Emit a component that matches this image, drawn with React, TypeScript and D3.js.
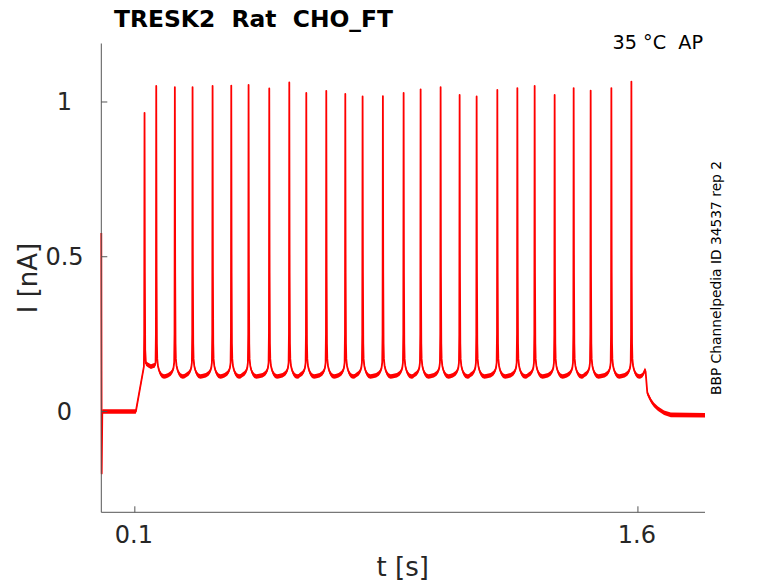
import React from "react";
import * as d3 from "d3";

// ---- Data ----
const TITLE = "TRESK2  Rat  CHO_FT";
const CONDITION = "35 °C  AP";
const SIDE_NOTE = "BBP Channelpedia ID 34537 rep 2";
const X_LABEL = "t [s]";
const Y_LABEL = "I [nA]";

const X_DOMAIN = [0, 1.8];
const Y_DOMAIN = [-0.3257, 1.189];
const X_TICKS = [0.1, 1.6];
const Y_TICKS = [0, 0.5, 1];

// spike peak times (s) and peak currents (nA)
const SPIKE_T = [
  0.1289, 0.1638, 0.2193, 0.2721, 0.3318, 0.3875, 0.4391, 0.5008, 0.5605,
  0.6112, 0.6708, 0.7275, 0.7791, 0.8396, 0.9014, 0.9521, 1.0117, 1.0684,
  1.1191, 1.1808, 1.2405, 1.2921, 1.3517, 1.4084, 1.4591, 1.5208, 1.5805,
];
const SPIKE_PEAK = [
  0.965, 1.052, 1.048, 1.048, 1.052, 1.053, 1.055, 1.044, 1.063, 1.029, 1.036,
  1.026, 1.018, 1.019, 1.029, 1.041, 1.048, 1.023, 1.018, 1.039, 1.045, 1.052,
  1.023, 1.045, 1.037, 1.045, 1.066,
];

// waveform around each spike: offsets from peak (s) and current (nA)
const PRE_OFF = [-0.02, -0.012, -0.007, -0.004, -0.002, -0.001];
const PRE_V = [0.117, 0.123, 0.131, 0.141, 0.158, 0.25];
const POST_OFF = [0.001, 0.002, 0.003, 0.005, 0.008, 0.012, 0.017, 0.023, 0.028];
const POST_V = [0.45, 0.22, 0.17, 0.148, 0.134, 0.123, 0.116, 0.113, 0.114];

// holding period, transient and ramp before the first spike
const ONSET_T = [0, 0.0004, 0.0012, 0.003, 0.103, 0.127];
const ONSET_V = [0.577, 0.3, -0.2, 0.0, 0.0, 0.145];

// plateau between the first and second spike
const FIRST_GAP_T = [0.1299, 0.1309, 0.133, 0.14, 0.148, 0.16];
const FIRST_GAP_V = [0.45, 0.2, 0.155, 0.15, 0.145, 0.15];

// end of the step and return to holding
const END_T = [1.614, 1.619, 1.621, 1.623, 1.625, 1.628, 1.633, 1.64, 1.648, 1.66, 1.678, 1.698, 1.8];
const END_V = [0.118, 0.128, 0.135, 0.128, 0.1, 0.06, 0.048, 0.033, 0.021, 0.009, -0.004, -0.011, -0.012];

// half width of the recording noise band (nA)
const NOISE = 0.0075;

// ---- Layout ----
const W = 778;
const H = 583;
const LEFT = 101.3;
const RIGHT = 705;
const TOP = 43.5;
const BOTTOM = 512.3;
const FONT = "'DejaVu Sans', sans-serif";
const AXIS_COLOR = "#555555";
const TEXT_COLOR = "#262626";

function buildTrace(): [number, number][] {
  const pts: [number, number][] = [];
  const push = (t: number, v: number) => {
    if (!pts.length || t > pts[pts.length - 1][0]) pts.push([t, v]);
  };
  ONSET_T.forEach((t, i) => push(t, ONSET_V[i]));
  SPIKE_T.forEach((ts, i) => {
    PRE_OFF.forEach((o, k) => push(ts + o, PRE_V[k]));
    push(ts, SPIKE_PEAK[i]);
    if (i === 0) {
      FIRST_GAP_T.forEach((t, k) => push(t, FIRST_GAP_V[k]));
    } else {
      POST_OFF.forEach((o, k) => {
        const next = SPIKE_T[i + 1];
        if (next === undefined || ts + o < next - 0.0205) push(ts + o, POST_V[k]);
      });
    }
  });
  END_T.forEach((t, i) => push(t, END_V[i]));
  return pts;
}

export default function App() {
  const x = d3.scaleLinear().domain(X_DOMAIN).range([LEFT, RIGHT]);
  const y = d3.scaleLinear().domain(Y_DOMAIN).range([BOTTOM, TOP]);
  const trace = buildTrace();

  const line = d3
    .line<[number, number]>()
    .x((d) => x(d[0]))
    .y((d) => y(d[1]));
  const band = d3
    .area<[number, number]>()
    .x((d) => x(d[0]))
    .y0((d) => y(d[1] - NOISE))
    .y1((d) => y(d[1] + NOISE));

  return (
    <div style={{ position: "absolute", left: 0, top: 0 }}>
      <svg width={W} height={H} style={{ display: "block", background: "#fff" }} fontFamily={FONT}>
        {/* trace */}
        <path d={band(trace) ?? ""} fill="#ff0000" stroke="none" />
        <path
          d={line(trace) ?? ""}
          fill="none"
          stroke="#ff0000"
          strokeWidth={1.8}
          strokeLinejoin="round"
        />

        {/* axes */}
        <line x1={LEFT} y1={TOP} x2={LEFT} y2={BOTTOM} stroke={AXIS_COLOR} strokeWidth={1} />
        <line x1={LEFT} y1={BOTTOM} x2={RIGHT} y2={BOTTOM} stroke={AXIS_COLOR} strokeWidth={1} />
        {Y_TICKS.map((v) => (
          <g key={"y" + v}>
            <line x1={LEFT} x2={LEFT + 6} y1={y(v)} y2={y(v)} stroke={AXIS_COLOR} strokeWidth={1} />
            <text x={64.5} y={y(v) + 8.5} fontSize={24} textAnchor="middle" fill={TEXT_COLOR}>
              {String(v)}
            </text>
          </g>
        ))}
        {X_TICKS.map((v) => (
          <g key={"x" + v}>
            <line x1={x(v)} x2={x(v)} y1={BOTTOM} y2={BOTTOM - 6} stroke={AXIS_COLOR} strokeWidth={1} />
            <text x={x(v) - 1} y={542.5} fontSize={24} textAnchor="middle" fill={TEXT_COLOR}>
              {String(v)}
            </text>
          </g>
        ))}

        {/* labels */}
        <text x={402.7} y={576} fontSize={26} textAnchor="middle" fill={TEXT_COLOR}>
          {X_LABEL}
        </text>
        <text
          transform={`translate(37,278) rotate(-90)`}
          fontSize={26}
          textAnchor="middle"
          fill={TEXT_COLOR}
        >
          {Y_LABEL}
        </text>
        <text x={114} y={26.7} fontSize={23.4} fontWeight="bold" fill="#000" style={{ whiteSpace: "pre" }}>
          {TITLE}
        </text>
        <text x={703} y={49} fontSize={19.2} textAnchor="end" fill="#000" style={{ whiteSpace: "pre" }}>
          {CONDITION}
        </text>
        <text
          transform={`translate(721,278) rotate(-90)`}
          fontSize={13.8}
          textAnchor="middle"
          fill="#000"
        >
          {SIDE_NOTE}
        </text>
      </svg>
    </div>
  );
}
